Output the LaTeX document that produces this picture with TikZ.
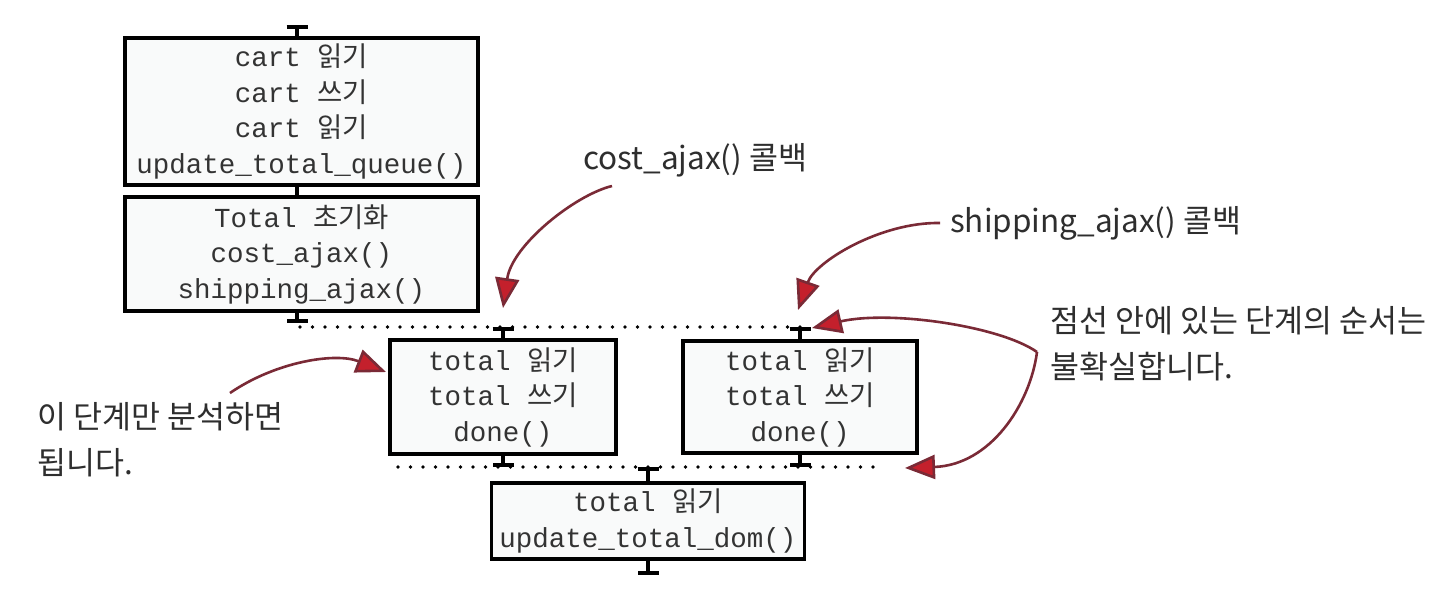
\documentclass[tikz,border=0pt]{standalone}
\usepackage{fontspec}
\setmonofont{Liberation Mono}
\newfontfamily\krfont{Noto Sans CJK KR}
\newfontfamily\krmono[Scale=1.0]{Noto Sans CJK KR}
\usetikzlibrary{arrows.meta}
\definecolor{boxtext}{HTML}{333333}
\definecolor{notetext}{HTML}{2E2E2E}
\definecolor{arrowline}{HTML}{7A2A36}
\definecolor{arrowred}{HTML}{C4202C}
\definecolor{boxfill}{HTML}{F9FAFA}
\newcommand{\kk}[1]{{\krmono #1}}
\begin{document}
\begin{tikzpicture}[x=1pt,y=-1pt,
  stepbox/.style={draw=black, line width=3.5pt, fill=boxfill, inner sep=0pt,
    align=center, text=boxtext,
    font=\fontsize{27.5}{35.5}\selectfont\ttfamily},
  link/.style={line width=3.5pt, draw=black},
  tick/.style={line width=3.5pt, draw=black, -{Bar[width=21pt,line width=4pt]}},
  dotline/.style={line width=3.8pt, line cap=round, dash pattern=on 0pt off 12.5pt, draw=black},
  note/.style={text=notetext, inner sep=0pt, align=left,
    font=\fontsize{31.5}{46}\selectfont\krfont},
  callout/.style={draw=arrowline, line width=2.6pt,
    -{Triangle[length=30pt,width=24pt,fill=arrowred]}}
]
\useasboundingbox[fill=white] (0,0) rectangle (1447,590);

% boxes
\node[stepbox, minimum width=353pt, minimum height=147pt] (b1) at (301.5,111.5)
  {cart \kk{읽기}\\cart \kk{쓰기}\\cart \kk{읽기}\\update\_total\_queue()};
\node[stepbox, minimum width=353pt, minimum height=114pt] (b2) at (301.5,254)
  {Total \kk{초기화}\\cost\_ajax()\\shipping\_ajax()};
\node[stepbox, minimum width=226pt, minimum height=114pt] (b3) at (503,397)
  {total \kk{읽기}\\total \kk{쓰기}\\done()};
\node[stepbox, minimum width=234pt, minimum height=112pt] (b4) at (800,397)
  {total \kk{읽기}\\total \kk{쓰기}\\done()};
\node[stepbox, minimum width=313pt, minimum height=76pt] (b5) at (648,521)
  {total \kk{읽기}\\update\_total\_dom()};

% tick / link coordinates
\coordinate (t1) at (297,25);
\coordinate (t2) at (297,323);
\coordinate (d1a) at (300,327);
\coordinate (d1b) at (806,327);
\coordinate (d2a) at (398,467);
\coordinate (d2b) at (882,467);
\coordinate (t5) at (648,575);

% dotted lines
\draw[dotline] (d1a) -- (d1b);
\draw[dotline] (d2a) -- (d2b);

% ticks and links
\draw[tick] (t1 |- b1.north) -- (t1);
\draw[link] (t1 |- b1.south) -- (t1 |- b2.north);
\draw[tick] (t1 |- b2.south) -- (t2);
\draw[tick] (b3.north) -- (b3.north |- d1a);
\draw[tick] (b4.north) -- (b4.north |- d1a);
\draw[tick] (b3.south) -- (b3.south |- d2a);
\draw[tick] (b4.south) -- (b4.south |- d2a);
\draw[tick] (b5.north) -- (b5.north |- d2a);
\draw[tick] (b5.south) -- (t5);

% annotations
\node[note, anchor=west] (ncost) at (583,160) {cost\_ajax() 콜백};
\node[note, anchor=west] (nship) at (950,223) {shipping\_ajax() 콜백};
\node[note, anchor=west] (norder) at (1050,344) {점선 안에 있는 단계의 순서는\\불확실합니다.};
\node[note, anchor=west] (nonly) at (37,440) {이 단계만 분석하면\\됩니다.};

% callout arrows
\coordinate (s1) at (612,186);
\coordinate (e1) at (503,308);
\coordinate (s2) at (940,223);
\coordinate (e2) at (798,310);
\coordinate (s3) at (1037,352);
\coordinate (e3a) at (812,328);
\coordinate (e3b) at (905,468);
\coordinate (s4) at (230,393);
\coordinate (e4) at (386,372);

\draw[callout] (s1) .. controls (575,195) and (512,245) .. (e1);
\draw[callout] (s2) .. controls (880,222) and (815,262) .. (e2);
\draw[callout] (s3) .. controls (1000,326) and (890,310) .. (e3a);
\draw[callout] (s3) .. controls (1030,405) and (990,465) .. (e3b);
\draw[callout] (s4) .. controls (275,362) and (335,352) .. (e4);
\end{tikzpicture}
\end{document}
